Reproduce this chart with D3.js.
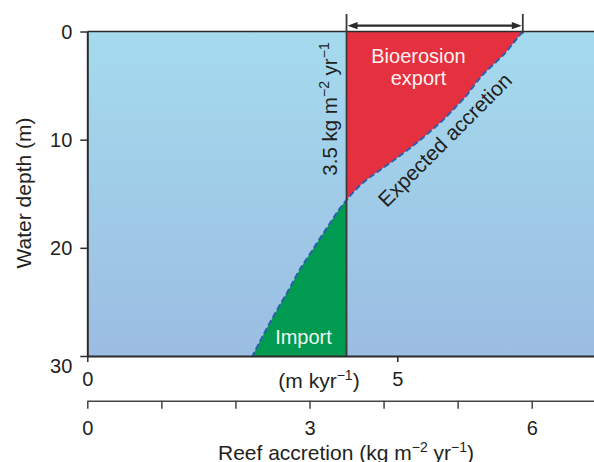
<!DOCTYPE html>
<html>
<head>
<meta charset="utf-8">
<script src="https://cdn.jsdelivr.net/npm/d3@7"></script>
<style>
  html, body { margin: 0; padding: 0; background: #ffffff; }
  svg { display: block; font-family: "Liberation Sans", Arial, Helvetica, sans-serif; }
  text { fill: #231f20; }
</style>
</head>
<body>
<svg id="chart" width="594" height="462"></svg>
<script>
// Expected reef accretion profile against water depth
const depthM = [0, 1, 2, 3, 4, 5, 6, 7, 8, 9, 10, 12, 14, 16, 18, 20, 22, 24, 26, 28, 30];
const expectedKg = [5.88, 5.76, 5.64, 5.49, 5.34, 5.22, 5.11, 4.97, 4.83, 4.67, 4.50,
                    4.12, 3.72, 3.45, 3.25, 3.06, 2.87, 2.71, 2.54, 2.38, 2.23];

// Actual (uniform) accretion rate, kg m-2 yr-1
const actualKg = 3.5;

// Axis ticks
const depthTicks = [0, 10, 20, 30];
const rateTicksM = [0, 5];
const rateTicksKg = [0, 1, 2, 3, 4, 5, 6];
const rateLabelsKg = [0, 3, 6];

const W = 594, H = 462;
const plotLeft = 87.3, plotTop = 31.5, plotBottom = 356;
const ink = "#231f20";

const y = d3.scaleLinear().domain([0, 30]).range([plotTop, plotBottom]);
const xKg = d3.scaleLinear().domain([0, 6]).range([plotLeft, 531.7]);
const xM = d3.scaleLinear().domain([0, 5]).range([plotLeft, 397.3]);

const svg = d3.select("#chart");
const defs = svg.append("defs");

const grad = defs.append("linearGradient")
  .attr("id", "water").attr("x1", 0).attr("y1", 0).attr("x2", 0).attr("y2", 1);
grad.append("stop").attr("offset", "0%").attr("stop-color", "#a5dbee");
grad.append("stop").attr("offset", "100%").attr("stop-color", "#9bbde2");

const xLine = xKg(actualKg);

defs.append("clipPath").attr("id", "clipRight")
  .append("rect").attr("x", xLine).attr("y", plotTop).attr("width", W - xLine).attr("height", plotBottom - plotTop);
defs.append("clipPath").attr("id", "clipLeft")
  .append("rect").attr("x", plotLeft).attr("y", plotTop).attr("width", xLine - plotLeft).attr("height", plotBottom - plotTop);

// Water column
svg.append("rect")
  .attr("x", plotLeft).attr("y", plotTop)
  .attr("width", W - plotLeft).attr("height", plotBottom - plotTop)
  .attr("fill", "url(#water)");

const profile = depthM.map((d, i) => ({ depth: d, kg: expectedKg[i] }));

const band = d3.area()
  .curve(d3.curveMonotoneY)
  .y(d => y(d.depth))
  .x0(xLine)
  .x1(d => xKg(d.kg));

// Export (expected above actual) and import (expected below actual)
svg.append("path").datum(profile)
  .attr("d", band).attr("fill", "#e4303f").attr("clip-path", "url(#clipRight)");
svg.append("path").datum(profile)
  .attr("d", band).attr("fill", "#009a50").attr("clip-path", "url(#clipLeft)");

// Expected accretion curve
const curve = d3.line()
  .curve(d3.curveMonotoneY)
  .x(d => xKg(d.kg))
  .y(d => y(d.depth));
svg.append("path").datum(profile)
  .attr("d", curve)
  .attr("fill", "none")
  .attr("stroke", "#2c5db0")
  .attr("stroke-width", 2)
  .attr("stroke-dasharray", "6,3");

// Top border
svg.append("line")
  .attr("x1", plotLeft).attr("x2", W).attr("y1", plotTop).attr("y2", plotTop)
  .attr("stroke", "#2b2b2b").attr("stroke-width", 1.5);

// Actual accretion line
svg.append("line")
  .attr("x1", xLine).attr("x2", xLine).attr("y1", 14).attr("y2", plotBottom)
  .attr("stroke", "#3a3a3a").attr("stroke-width", 1.8);

// Export span arrow at the surface
const xTop = xKg(expectedKg[0]);
const yArrow = 25.7;
svg.append("line")
  .attr("x1", xTop).attr("x2", xTop).attr("y1", 14).attr("y2", plotTop + 2)
  .attr("stroke", "#3a3a3a").attr("stroke-width", 1.8);
svg.append("line")
  .attr("x1", xLine + 6).attr("x2", xTop - 6).attr("y1", yArrow).attr("y2", yArrow)
  .attr("stroke", "#2b2b2b").attr("stroke-width", 2.2);
const headL = 10, headW = 3.6;
svg.append("path")
  .attr("d", `M${xLine + 1},${yArrow}L${xLine + 1 + headL},${yArrow - headW}L${xLine + 1 + headL},${yArrow + headW}Z`)
  .attr("fill", "#2b2b2b");
svg.append("path")
  .attr("d", `M${xTop - 1},${yArrow}L${xTop - 1 - headL},${yArrow - headW}L${xTop - 1 - headL},${yArrow + headW}Z`)
  .attr("fill", "#2b2b2b");

// Depth axis
const yAxis = svg.append("g")
  .attr("transform", `translate(${plotLeft},0)`)
  .call(d3.axisLeft(y).tickValues(depthTicks).tickSize(7).tickSizeOuter(0).tickPadding(8));
yAxis.select(".domain").attr("stroke", "#2b2b2b").attr("stroke-width", 2);
yAxis.selectAll(".tick line").attr("stroke", "#2b2b2b").attr("stroke-width", 1.5);
yAxis.selectAll(".tick text")
  .attr("font-size", 20)
  .attr("font-family", "Liberation Sans, Arial, sans-serif")
  .attr("fill", ink)
  .attr("dy", d => d === 30 ? "0.82em" : "0.34em");

svg.append("text")
  .attr("transform", `translate(31,193) rotate(-90)`)
  .attr("text-anchor", "middle")
  .attr("font-size", 21)
  .text("Water depth (m)");

// Accretion axis, m kyr-1
const xMExt = xM.copy().domain([0, xM.invert(W)]).range([plotLeft, W]);
const mAxis = svg.append("g")
  .attr("transform", `translate(0,${plotBottom})`)
  .call(d3.axisBottom(xMExt).tickValues(rateTicksM).tickSize(6).tickSizeOuter(0).tickFormat(d3.format("d")).tickPadding(10));
mAxis.select(".domain").attr("stroke", "#2b2b2b").attr("stroke-width", 2);
mAxis.selectAll(".tick line").attr("stroke", "#2b2b2b").attr("stroke-width", 1.5);
mAxis.selectAll(".tick text")
  .attr("font-size", 20)
  .attr("font-family", "Liberation Sans, Arial, sans-serif")
  .attr("fill", ink);

const mUnit = svg.append("text")
  .attr("x", 319).attr("y", 388)
  .attr("text-anchor", "middle")
  .attr("font-size", 21);
mUnit.append("tspan").text("(m kyr");
mUnit.append("tspan").attr("font-size", 14).attr("dy", -8).text("\u22121");
mUnit.append("tspan").attr("dy", 8).text(")");

// Accretion axis, kg m-2 yr-1
const kgAxisY = 400.7;
const xKgExt = xKg.copy().domain([0, xKg.invert(W)]).range([plotLeft, W]);
const kAxis = svg.append("g")
  .attr("transform", `translate(0,${kgAxisY})`)
  .call(d3.axisBottom(xKgExt).tickValues(rateTicksKg).tickSize(8).tickSizeOuter(0)
    .tickPadding(12)
    .tickFormat(d => rateLabelsKg.includes(d) ? d : ""));
kAxis.select(".domain").attr("stroke", "#444").attr("stroke-width", 1.5);
kAxis.selectAll(".tick line").attr("stroke", "#444").attr("stroke-width", 1.5);
kAxis.selectAll(".tick text")
  .attr("font-size", 20)
  .attr("font-family", "Liberation Sans, Arial, sans-serif")
  .attr("fill", ink);

const kgTitle = svg.append("text")
  .attr("x", 346).attr("y", 459.5)
  .attr("text-anchor", "middle")
  .attr("font-size", 21);
kgTitle.append("tspan").text("Reef accretion (kg m");
kgTitle.append("tspan").attr("font-size", 14).attr("dy", -8).text("\u22122");
kgTitle.append("tspan").attr("dy", 8).text(" yr");
kgTitle.append("tspan").attr("font-size", 14).attr("dy", -8).text("\u22121");
kgTitle.append("tspan").attr("dy", 8).text(")");

// Rate label on the actual accretion line
const rateLabel = svg.append("text")
  .attr("transform", `translate(${xLine - 10},109) rotate(-90)`)
  .attr("text-anchor", "middle")
  .attr("font-size", 20.5);
rateLabel.append("tspan").text(`${actualKg} kg m`);
rateLabel.append("tspan").attr("font-size", 14).attr("dy", -8).text("\u22122");
rateLabel.append("tspan").attr("dy", 8).text(" yr");
rateLabel.append("tspan").attr("font-size", 14).attr("dy", -8).text("\u22121");

// Region labels
const exportLabel = svg.append("text")
  .attr("text-anchor", "middle").attr("font-size", 20)
  .style("fill", "#fdf2f2");
exportLabel.append("tspan").attr("x", 418.5).attr("y", 62.5).text("Bioerosion");
exportLabel.append("tspan").attr("x", 418.5).attr("dy", 22.6).text("export");

svg.append("text")
  .attr("x", 303.5).attr("y", 343.5)
  .attr("text-anchor", "middle").attr("font-size", 20)
  .style("fill", "#eef8f2")
  .text("Import");

svg.append("text")
  .attr("transform", `translate(450,145) rotate(-45)`)
  .attr("text-anchor", "middle")
  .attr("font-size", 21)
  .text("Expected accretion");
</script>
</body>
</html>
